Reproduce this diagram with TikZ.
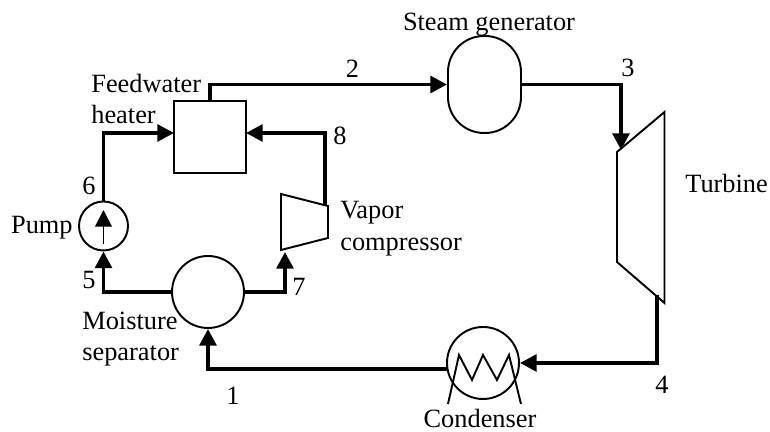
\documentclass[tikz,border=0pt]{standalone}
\usepackage{fontspec}
\setmainfont{Liberation Serif}
\usetikzlibrary{arrows.meta}
\tikzset{
  pipe/.style={line width=2.2pt, line cap=butt, line join=miter},
  feed/.style={pipe, -{Triangle[length=9.5pt, width=9.5pt]}},
  unit/.style={draw, line width=1.1pt, inner sep=0pt, fill=white},
  lbl/.style={font=\fontsize{15}{18}\selectfont, inner sep=0pt},
}

\begin{document}
\begin{tikzpicture}[lbl]
  \useasboundingbox (0, 0) rectangle (15.4, 8.64);

  % Pipes are drawn first, units sit on top of them
  \coordinate (heatinl) at (3.48, 5.98);
  \coordinate (heatinr) at (4.92, 5.98);
  \coordinate (turbin) at (12.42, 5.64);
  \coordinate (turbout) at (13.14, 2.74);
  \coordinate (compin) at (5.70, 3.60);
  \coordinate (compout) at (6.50, 4.54);
  \coordinate (condout) at (8.94, 1.26);

  % Units (1 px of the layout = 0.02 cm)
  \node[unit, minimum size=1.44cm] (heater) at (4.20, 5.90) {};
  \node[unit, rounded corners=0.72cm, minimum width=1.46cm, minimum height=1.94cm] (stgen) at (9.69, 6.95) {};
  \node[unit, circle, minimum size=1.44cm] (sep) at (4.16, 2.80) {};
  \node[unit, circle, minimum size=0.98cm] (pump) at (2.07, 4.12) {};
  \node[unit, circle, minimum size=1.44cm] (cond) at (9.66, 1.38) {};

  % Turbine and vapor compressor
  \draw[line width=1.1pt, line join=miter] (12.34, 5.60) -- (13.29, 6.40) -- (13.29, 2.58) -- (12.34, 3.40) -- cycle;
  \draw[line width=1.1pt, line join=miter] (5.62, 4.76) -- (6.56, 4.52) -- (6.56, 3.88) -- (5.62, 3.64) -- cycle;

  % Main loop
  \draw[feed] (heater.north) |- (stgen.west);
  \draw[feed] (stgen.east) -| (turbin);
  \draw[feed] (turbout) |- (cond.east);
  \draw[feed] (condout) -| (sep.south);
  \draw[feed] (sep.west) -| (pump.south);
  \draw[feed] (pump.north) |- (heatinl);
  \draw[feed] (sep.east) -| (compin);
  \draw[feed] (compout) |- (heatinr);

  % Arrow inside the pump
  \draw[line width=1.1pt, -{Triangle[length=9.5pt, width=9.5pt]}] ([yshift=-0.36cm]pump.center) -- ([yshift=0.32cm]pump.center);

  % Condenser coil
  \draw[line width=1.1pt, line join=miter] (8.96, 0.56) -- (9.18, 1.54) -- (9.44, 1.04) -- (9.66, 1.54) -- (9.94, 1.04) -- (10.18, 1.54) -- (10.42, 0.56);

  % State numbers
  \foreach \x/\y/\lbl in {7.05/7.26/2, 12.56/7.28/3, 13.24/0.94/4, 1.78/3.04/5, 1.78/4.92/6, 5.98/2.90/7, 6.80/5.92/8, 4.66/0.72/1} {
    \node (num\lbl) at (\x, \y) {\lbl};
  }

  % Unit names
  \node[anchor=west, align=left] (heatername) at (1.82, 6.66) {Feedwater\\heater};
  \node (stgenname) at (9.78, 8.14) {Steam generator};
  \node[anchor=east] (pumpname) at (1.46, 4.08) {Pump};
  \node[anchor=west, align=left] (compname) at (6.80, 4.06) {Vapor\\compressor};
  \node[anchor=west, align=left] (sepname) at (1.64, 1.86) {Moisture\\separator};
  \node[anchor=west] (turbname) at (13.70, 4.98) {Turbine};
  \node (condname) at (9.60, 0.28) {Condenser};
\end{tikzpicture}
\end{document}
